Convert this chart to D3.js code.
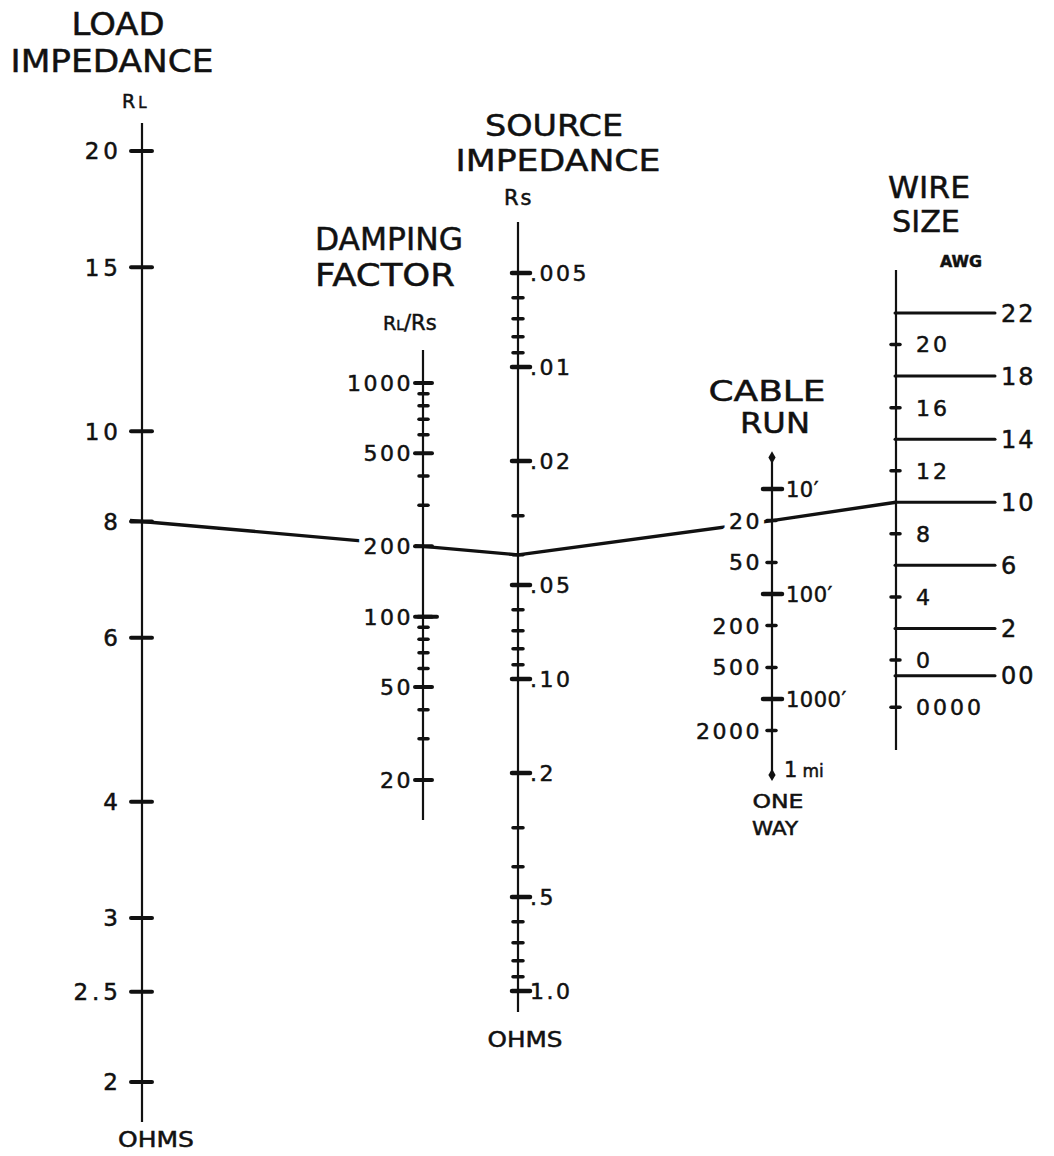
<!DOCTYPE html>
<html>
<head>
<meta charset="utf-8">
<script src="https://cdn.jsdelivr.net/npm/d3@7"></script>
<style>
  body { margin: 0; background: #fff; }
  text { font-family: "DejaVu Sans", sans-serif; fill: #111; stroke: #111; stroke-width: 0.5px; }
  text.halo { stroke: #fff; stroke-width: 12px; fill: #fff; }
</style>
</head>
<body>
<div id="chart"></div>
<script>
// ---- scale values ----
var loadTicks = [20, 15, 10, 8, 6, 4, 3, 2.5, 2];
var loadLabels = ["20", "15", "10", "8", "6", "4", "3", "2.5", "2"];

var dampTicks = [1000, 500, 200, 100, 50, 20];
var dampLabels = ["1000", "500", "200", "100", "50", "20"];
var dampMinor = [900, 800, 700, 600, 400, 300, 90, 80, 70, 60, 40, 30];

var srcTicks = [0.005, 0.01, 0.02, 0.05, 0.1, 0.2, 0.5, 1.0];
var srcLabels = [".005", ".01", ".02", ".05", ".10", ".2", ".5", "1.0"];
var srcMinor = [0.006, 0.007, 0.008, 0.009, 0.03, 0.04, 0.06, 0.07, 0.08, 0.09,
                0.3, 0.4, 0.6, 0.7, 0.8, 0.9];

var cableFeet = [10, 100, 1000];
var cableFeetLabels = ["10\u2032", "100\u2032", "1000\u2032"];
var cableLeft = [20, 50, 200, 500, 2000];
var cableLeftLabels = ["20", "50", "200", "500", "2000"];
var cableEnds = [5, 5280];

var wireLong = [22, 18, 14, 10, 6, 2, -1];          // 00 = -1
var wireLongLabels = ["22", "18", "14", "10", "6", "2", "00"];
var wireShort = [20, 16, 12, 8, 4, 0, -3];          // 0000 = -3
var wireShortLabels = ["20", "16", "12", "8", "4", "0", "0000"];

// worked example drawn across the chart
var exampleScales = ["load", "damp", "src", "cable", "wire"];
var exampleValues = [8, 200, 0.04, 20, 10];

var width = 1054, height = 1156;

var svg = d3.select("#chart").append("svg")
  .attr("width", width).attr("height", height)
  .style("background", "#fff");

// axis x positions
var xLoad = 142, xDamp = 423, xSrc = 518, xCable = 772, xWire = 896;

var scales = {
  load: d3.scaleLog().domain([20, 2]).range([151, 1082]),
  damp: d3.scaleLog().domain([1000, 20]).range([383, 780]),
  src: d3.scaleLog().domain([0.01, 1]).range([367, 991]),
  cable: d3.scaleLog().domain([10, 1000]).range([489, 699]),
  wire: d3.scaleLinear().domain([22, 0]).range([313, 660])
};
var xs = { load: xLoad, damp: xDamp, src: xSrc, cable: xCable, wire: xWire };

function axisLine(x, y0, y1) {
  svg.append("line")
    .attr("x1", x).attr("x2", x).attr("y1", y0).attr("y2", y1)
    .attr("stroke", "#111").attr("stroke-width", 2.2);
}

function ticks(values, scale, x1, x2, w) {
  svg.append("g").selectAll("line")
    .data(values).enter().append("line")
      .attr("x1", x1).attr("x2", x2)
      .attr("y1", d => scale(d)).attr("y2", d => scale(d))
      .attr("stroke", "#111").attr("stroke-width", w)
      .attr("stroke-linecap", "round");
}

function labels(values, texts, scale, x, anchor, size, spacing, cls) {
  svg.append("g").selectAll("text")
    .data(values).enter().append("text")
      .attr("class", cls || null)
      .attr("x", x)
      .attr("y", d => scale(d))
      .attr("dy", "0.36em")
      .attr("text-anchor", anchor)
      .style("font-size", size + "px")
      .style("letter-spacing", spacing + "px")
      .text((d, i) => texts[i]);
}

function title(txt, cx, y, size, len) {
  var t = svg.append("text")
    .attr("x", cx).attr("y", y)
    .attr("text-anchor", "middle")
    .style("font-size", size + "px")
    .text(txt);
  if (len) t.attr("textLength", len).attr("lengthAdjust", "spacingAndGlyphs");
  return t;
}

// ---------- the worked example line (drawn first, labels knock it out) ----------
var pts = exampleScales.map((k, i) => [xs[k], scales[k](exampleValues[i])]);
var slope0 = (pts[1][1] - pts[0][1]) / (pts[1][0] - pts[0][0]);
pts.unshift([pts[0][0] - 12, pts[0][1] - 12 * slope0]);
svg.append("path")
  .attr("d", d3.line()(pts))
  .attr("fill", "none").attr("stroke", "#111")
  .attr("stroke-width", 3.4).attr("stroke-linejoin", "round");

// white knock-outs behind the two labels the line passes through
labels([exampleValues[1]], ["200"], scales.damp, xDamp - 10, "end", 22, 2.5, "halo");
labels([exampleValues[3]], ["20"], scales.cable, xCable - 10, "end", 22, 2.5, "halo");

// ---------- LOAD IMPEDANCE ----------
axisLine(xLoad, 123, 1122);
ticks(loadTicks, scales.load, xLoad - 11, xLoad + 10, 4);
labels(loadTicks, loadLabels, scales.load, xLoad - 20, "end", 23, 4);
title("LOAD", 118, 35, 32, 93);
title("IMPEDANCE", 112, 72, 32, 203);
svg.append("text").attr("x", 122).attr("y", 108).style("font-size", "19px")
  .text("R").append("tspan").style("font-size", "15px").attr("dx", 3).text("L");
title("OHMS", 156, 1147, 21, 76);

// ---------- DAMPING FACTOR ----------
axisLine(xDamp, 350, 820);
ticks(dampMinor, scales.damp, xDamp - 4, xDamp + 5, 3.5);
ticks(dampTicks, scales.damp, xDamp - 8, xDamp + 9, 4);
ticks([100], scales.damp, xDamp - 5, xDamp + 14, 4);
labels(dampTicks, dampLabels, scales.damp, xDamp - 10, "end", 22, 2.5);
title("DAMPING", 389, 250, 32, 148);
title("FACTOR", 385, 286, 32, 140);
svg.append("text").attr("x", 383).attr("y", 330).style("font-size", "19px")
  .text("R").append("tspan").style("font-size", "14px").text("L")
  .append("tspan").style("font-size", "21px").text("/Rs");

// ---------- SOURCE IMPEDANCE ----------
axisLine(xSrc, 222, 1012);
ticks(srcMinor, scales.src, xSrc - 5, xSrc + 5, 3.5);
ticks(srcTicks, scales.src, xSrc - 6, xSrc + 12, 4.5);
labels(srcTicks, srcLabels, scales.src, xSrc + 12, "start", 22, 2.5);
title("SOURCE", 554, 136, 31, 138);
title("IMPEDANCE", 558, 171, 31, 205);
svg.append("text").attr("x", 504).attr("y", 205).style("font-size", "21px")
  .style("letter-spacing", "2px").text("Rs");
title("OHMS", 525, 1047, 21, 75);

// ---------- CABLE RUN ----------
axisLine(xCable, 455, 775);
ticks(cableLeft, scales.cable, xCable - 5, xCable + 4, 3.5);
ticks(cableFeet, scales.cable, xCable - 9, xCable + 10, 4.5);
svg.append("g").selectAll("path")
  .data(cableEnds).enter().append("path")
    .attr("transform", d => "translate(" + xCable + "," + scales.cable(d) + ")")
    .attr("d", d3.symbol().type(d3.symbolDiamond).size(45))
    .attr("fill", "#111");
labels(cableLeft, cableLeftLabels, scales.cable, xCable - 10, "end", 22, 2.5);
labels(cableFeet, cableFeetLabels, scales.cable, xCable + 14, "start", 21, 0.5);
svg.append("text").attr("x", xCable + 12).attr("y", scales.cable(cableEnds[1]) + 2)
  .style("font-size", "21px").text("1")
  .append("tspan").attr("dx", 5).style("font-size", "17px").text("mi");
title("CABLE", 767, 401, 29, 117);
title("RUN", 775, 433, 29, 70);
title("ONE", 778, 808, 19, 51);
title("WAY", 775, 835, 19, 46);

// ---------- WIRE SIZE ----------
axisLine(xWire, 270, 750);
ticks(wireLong, scales.wire, xWire - 1, xWire + 99, 3);
ticks(wireShort, scales.wire, xWire - 5, xWire + 4, 3.5);
labels(wireLong, wireLongLabels, scales.wire, xWire + 105, "start", 24, 2);
labels(wireShort, wireShortLabels, scales.wire, xWire + 20, "start", 22, 3);
title("WIRE", 929, 198, 31, 82);
title("SIZE", 926, 232, 31, 68);
title("AWG", 961, 267, 16, 42).style("font-weight", "bold");
</script>
</body>
</html>
